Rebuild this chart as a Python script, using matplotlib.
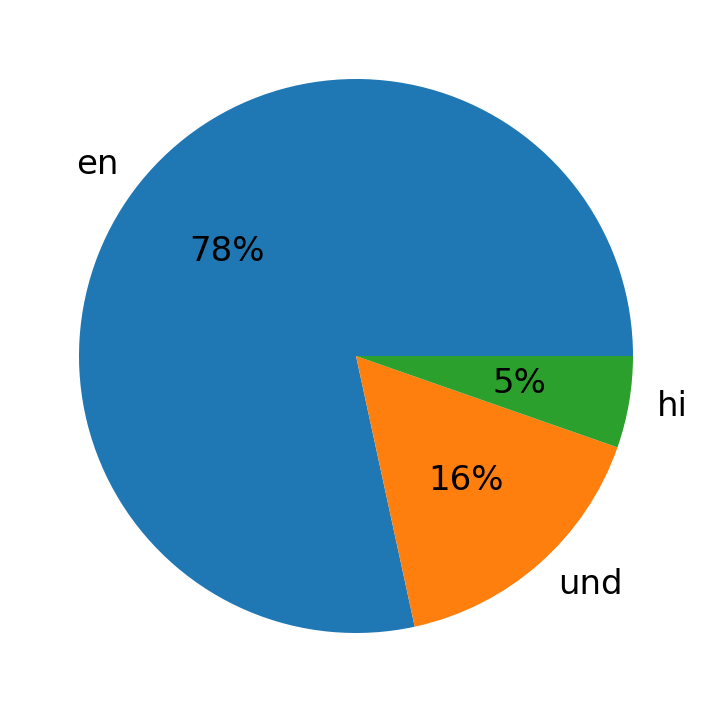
import matplotlib
matplotlib.use("Agg")
import matplotlib.pyplot as plt

labels = ["en", "und", "hi"]
values = [78.4, 16.25, 5.35]

W, H = 712, 713
cx, cy, r = 356, 357, 277
lim = 1.25
half = lim * r
fig = plt.figure(figsize=(W / 100, H / 100), dpi=100)
ax = fig.add_axes([(cx - half) / W, (cy - half) / H, 2 * half / W, 2 * half / H])
ax.pie(values, labels=labels, autopct="%1.0f%%", textprops={"fontsize": 24.5})
ax.set_xlim(-lim, lim)
ax.set_ylim(-lim, lim)
fig.savefig("out.png", dpi=100)
